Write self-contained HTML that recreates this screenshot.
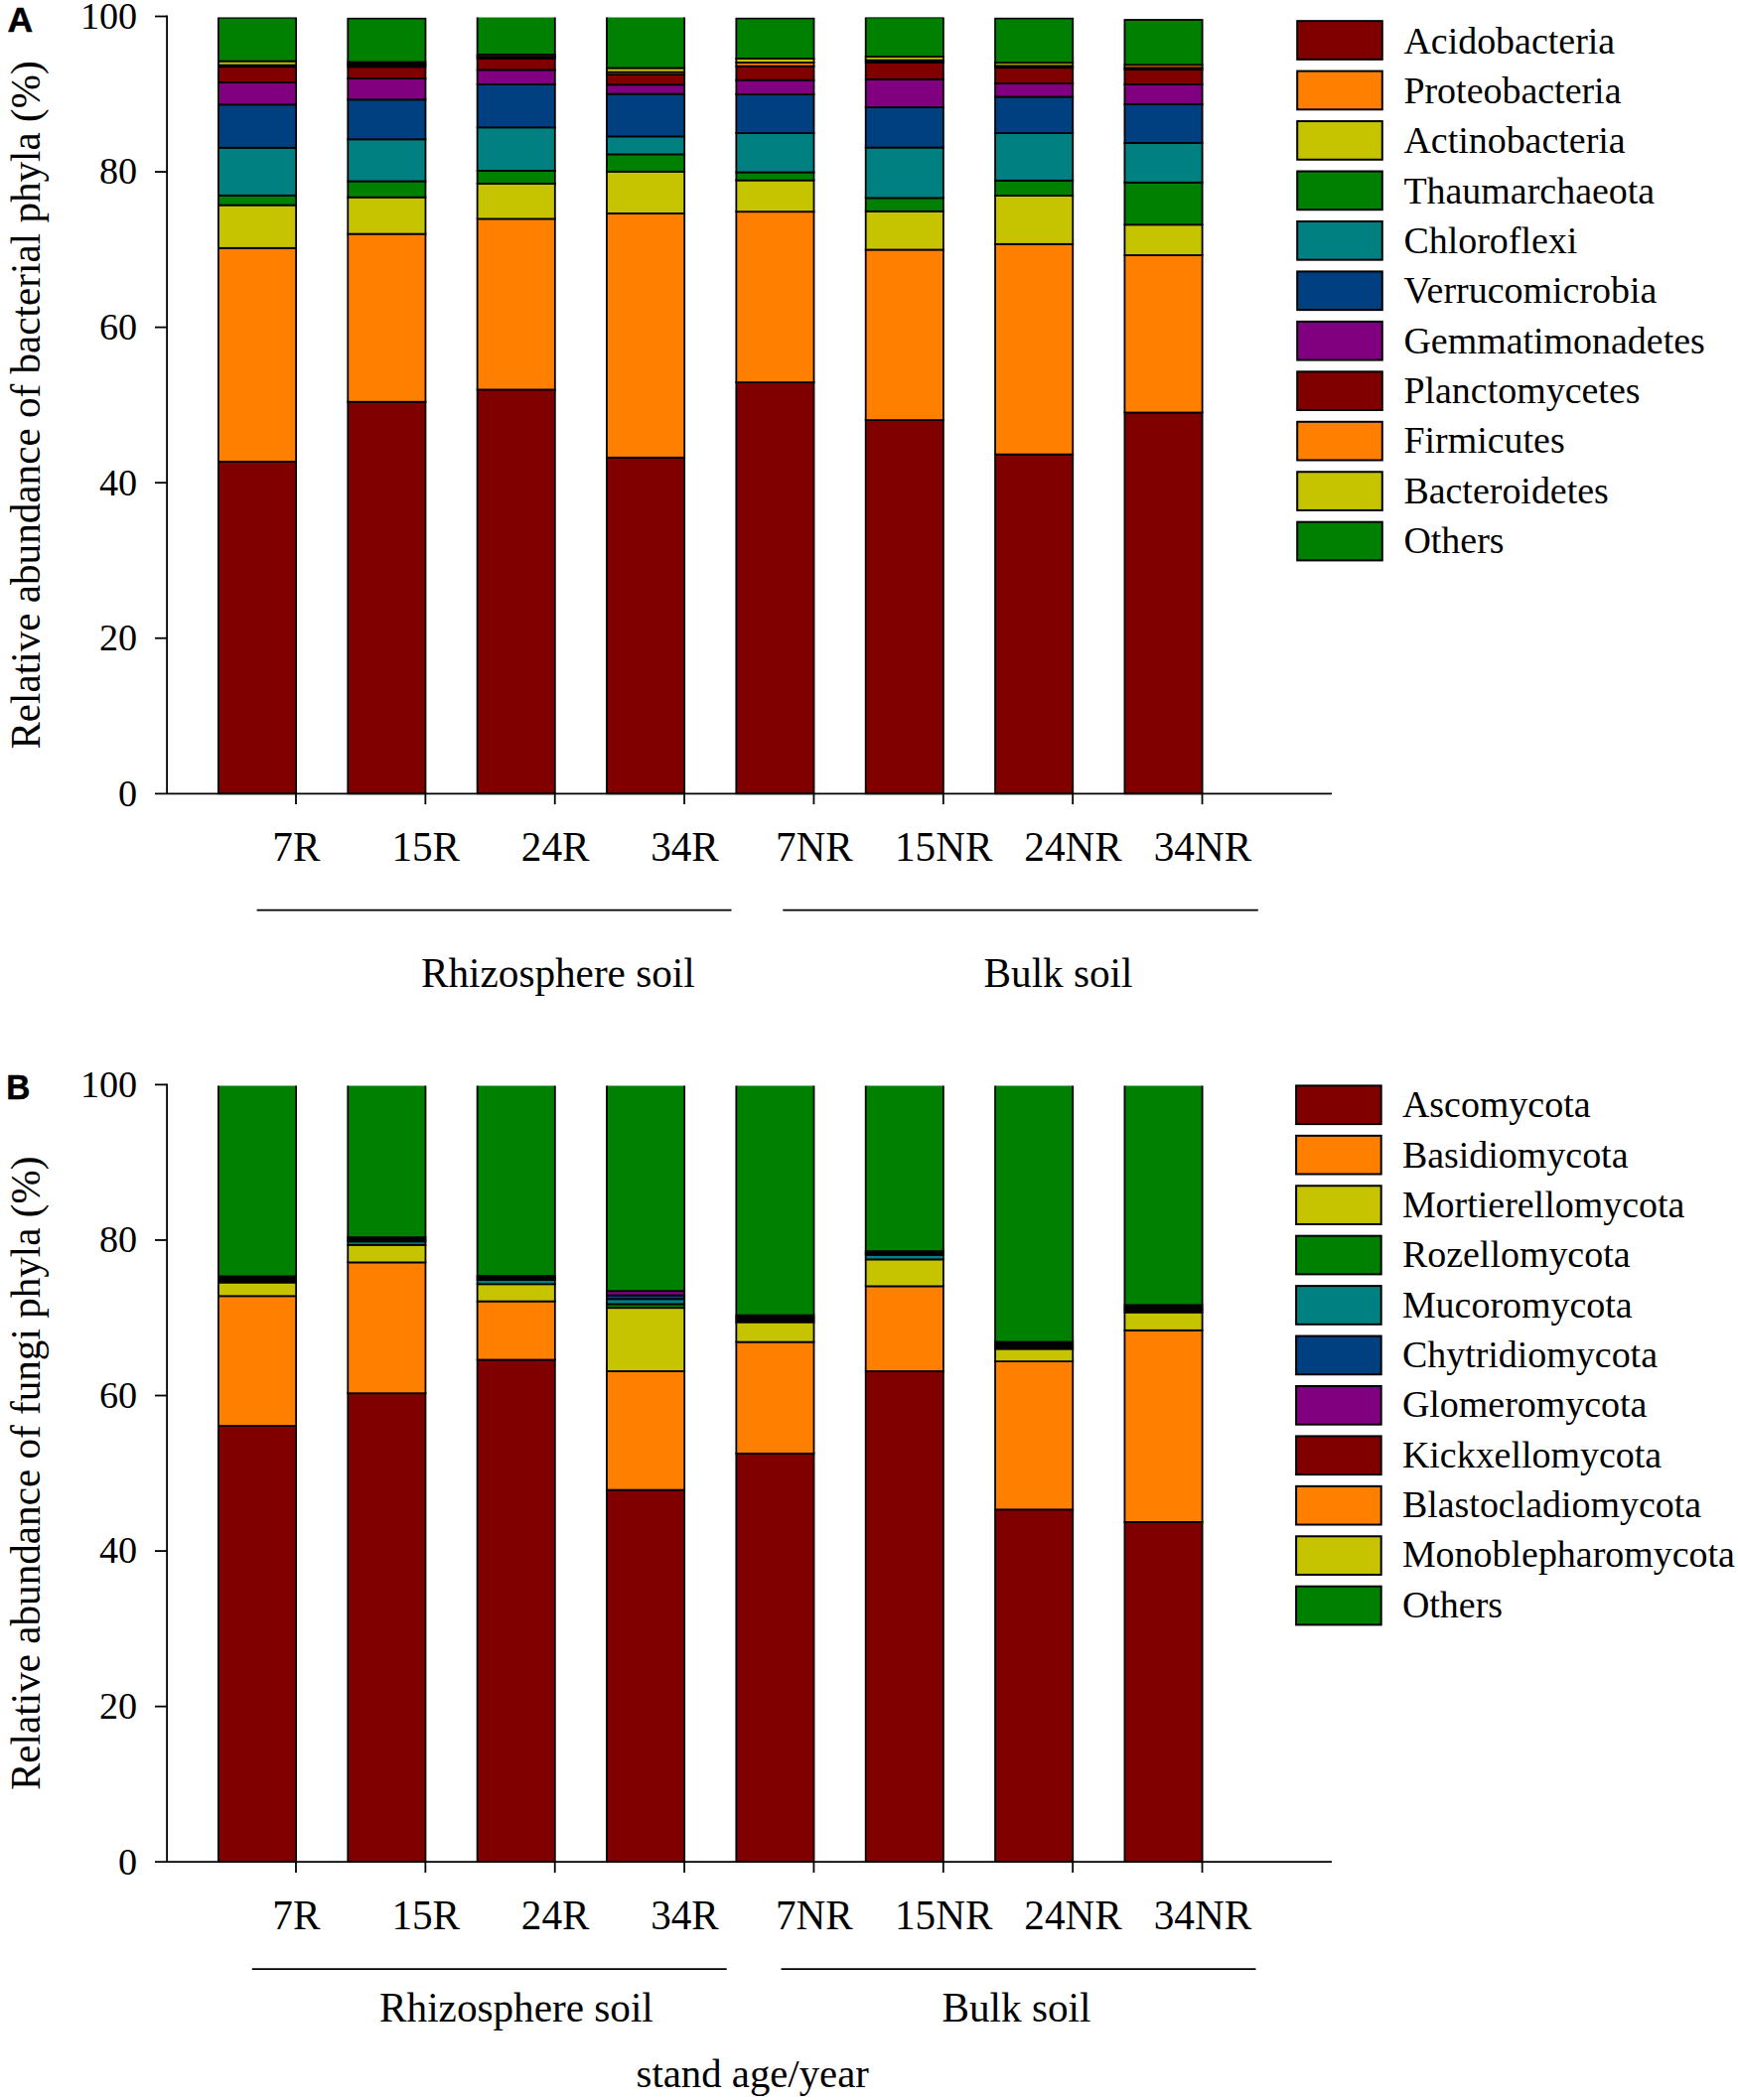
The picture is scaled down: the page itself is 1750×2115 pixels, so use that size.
<!DOCTYPE html>
<html lang="en"><head><meta charset="utf-8"><title>Relative abundance of bacterial and fungi phyla</title>
<style>html,body{margin:0;padding:0;background:#fff}body{width:1750px;height:2115px;overflow:hidden}svg{display:block}text{font-family:"Liberation Serif","Times New Roman",serif;fill:#000}.pl{font-family:"Liberation Sans",Arial,sans-serif;font-weight:bold;font-size:35.5px;stroke:#000;stroke-width:0.5px}.yt{font-size:38.2px;text-anchor:end}.xt{font-size:41.2px;text-anchor:middle}.ax{font-size:41.2px}.yl{font-size:41.15px}.lg{font-size:37.95px}.s{stroke:#000;stroke-width:1.8}.l{stroke:#000;stroke-width:1.8;fill:none}</style></head><body>
<svg width="1750" height="2115" viewBox="0 0 1750 2115">
<rect x="0" y="0" width="1750" height="2115" fill="#fff"/>
<defs><clipPath id="ca"><rect x="150" y="17.40" width="1250" height="800"/></clipPath><clipPath id="cb"><rect x="150" y="1093.60" width="1250" height="800"/></clipPath></defs>
<g clip-path="url(#ca)">
<rect class="s" x="219.90" y="464.90" width="78.20" height="334.40" fill="#800000"/>
<rect class="s" x="219.90" y="249.80" width="78.20" height="215.10" fill="#FF8000"/>
<rect class="s" x="219.90" y="206.60" width="78.20" height="43.20" fill="#C6C400"/>
<rect class="s" x="219.90" y="196.80" width="78.20" height="9.80" fill="#008000"/>
<rect class="s" x="219.90" y="148.80" width="78.20" height="48.00" fill="#008080"/>
<rect class="s" x="219.90" y="105.30" width="78.20" height="43.50" fill="#004080"/>
<rect class="s" x="219.90" y="82.90" width="78.20" height="22.40" fill="#800080"/>
<rect class="s" x="219.90" y="67.20" width="78.20" height="15.70" fill="#800000"/>
<rect class="s" x="219.90" y="65.60" width="78.20" height="1.60" fill="#000000"/>
<rect class="s" x="219.90" y="61.60" width="78.20" height="4.00" fill="#C6C400"/>
<rect class="s" x="219.90" y="17.80" width="78.20" height="43.80" fill="#008000"/>
<rect class="s" x="350.26" y="404.70" width="78.20" height="394.60" fill="#800000"/>
<rect class="s" x="350.26" y="235.60" width="78.20" height="169.10" fill="#FF8000"/>
<rect class="s" x="350.26" y="198.70" width="78.20" height="36.90" fill="#C6C400"/>
<rect class="s" x="350.26" y="182.50" width="78.20" height="16.20" fill="#008000"/>
<rect class="s" x="350.26" y="140.30" width="78.20" height="42.20" fill="#008080"/>
<rect class="s" x="350.26" y="100.30" width="78.20" height="40.00" fill="#004080"/>
<rect class="s" x="350.26" y="78.90" width="78.20" height="21.40" fill="#800080"/>
<rect class="s" x="350.26" y="67.30" width="78.20" height="11.60" fill="#800000"/>
<rect class="s" x="350.26" y="64.90" width="78.20" height="2.40" fill="#000000"/>
<rect class="s" x="350.26" y="62.50" width="78.20" height="2.40" fill="#000000"/>
<rect class="s" x="350.26" y="18.60" width="78.20" height="43.90" fill="#008000"/>
<rect class="s" x="480.62" y="392.40" width="78.20" height="406.90" fill="#800000"/>
<rect class="s" x="480.62" y="220.40" width="78.20" height="172.00" fill="#FF8000"/>
<rect class="s" x="480.62" y="184.90" width="78.20" height="35.50" fill="#C6C400"/>
<rect class="s" x="480.62" y="171.90" width="78.20" height="13.00" fill="#008000"/>
<rect class="s" x="480.62" y="128.30" width="78.20" height="43.60" fill="#008080"/>
<rect class="s" x="480.62" y="84.90" width="78.20" height="43.40" fill="#004080"/>
<rect class="s" x="480.62" y="70.40" width="78.20" height="14.50" fill="#800080"/>
<rect class="s" x="480.62" y="59.00" width="78.20" height="11.40" fill="#800000"/>
<rect class="s" x="480.62" y="57.00" width="78.20" height="2.00" fill="#000000"/>
<rect class="s" x="480.62" y="54.90" width="78.20" height="2.10" fill="#C6C400"/>
<rect class="s" x="480.62" y="5.00" width="78.20" height="49.90" fill="#008000"/>
<rect class="s" x="610.98" y="460.80" width="78.20" height="338.50" fill="#800000"/>
<rect class="s" x="610.98" y="214.90" width="78.20" height="245.90" fill="#FF8000"/>
<rect class="s" x="610.98" y="172.80" width="78.20" height="42.10" fill="#C6C400"/>
<rect class="s" x="610.98" y="155.40" width="78.20" height="17.40" fill="#008000"/>
<rect class="s" x="610.98" y="137.40" width="78.20" height="18.00" fill="#008080"/>
<rect class="s" x="610.98" y="94.60" width="78.20" height="42.80" fill="#004080"/>
<rect class="s" x="610.98" y="85.30" width="78.20" height="9.30" fill="#800080"/>
<rect class="s" x="610.98" y="75.10" width="78.20" height="10.20" fill="#800000"/>
<rect class="s" x="610.98" y="72.60" width="78.20" height="2.50" fill="#FF8000"/>
<rect class="s" x="610.98" y="68.50" width="78.20" height="4.10" fill="#C6C400"/>
<rect class="s" x="610.98" y="5.00" width="78.20" height="63.50" fill="#008000"/>
<rect class="s" x="741.34" y="385.10" width="78.20" height="414.20" fill="#800000"/>
<rect class="s" x="741.34" y="213.20" width="78.20" height="171.90" fill="#FF8000"/>
<rect class="s" x="741.34" y="181.60" width="78.20" height="31.60" fill="#C6C400"/>
<rect class="s" x="741.34" y="173.50" width="78.20" height="8.10" fill="#008000"/>
<rect class="s" x="741.34" y="134.10" width="78.20" height="39.40" fill="#008080"/>
<rect class="s" x="741.34" y="95.10" width="78.20" height="39.00" fill="#004080"/>
<rect class="s" x="741.34" y="80.60" width="78.20" height="14.50" fill="#800080"/>
<rect class="s" x="741.34" y="66.60" width="78.20" height="14.00" fill="#800000"/>
<rect class="s" x="741.34" y="63.00" width="78.20" height="3.60" fill="#FF8000"/>
<rect class="s" x="741.34" y="58.90" width="78.20" height="4.10" fill="#C6C400"/>
<rect class="s" x="741.34" y="18.50" width="78.20" height="40.40" fill="#008000"/>
<rect class="s" x="871.70" y="423.10" width="78.20" height="376.20" fill="#800000"/>
<rect class="s" x="871.70" y="251.50" width="78.20" height="171.60" fill="#FF8000"/>
<rect class="s" x="871.70" y="212.80" width="78.20" height="38.70" fill="#C6C400"/>
<rect class="s" x="871.70" y="199.40" width="78.20" height="13.40" fill="#008000"/>
<rect class="s" x="871.70" y="148.60" width="78.20" height="50.80" fill="#008080"/>
<rect class="s" x="871.70" y="108.10" width="78.20" height="40.50" fill="#004080"/>
<rect class="s" x="871.70" y="79.90" width="78.20" height="28.20" fill="#800080"/>
<rect class="s" x="871.70" y="62.90" width="78.20" height="17.00" fill="#800000"/>
<rect class="s" x="871.70" y="60.60" width="78.20" height="2.30" fill="#000000"/>
<rect class="s" x="871.70" y="57.10" width="78.20" height="3.50" fill="#C6C400"/>
<rect class="s" x="871.70" y="17.40" width="78.20" height="39.70" fill="#008000"/>
<rect class="s" x="1002.06" y="457.60" width="78.20" height="341.70" fill="#800000"/>
<rect class="s" x="1002.06" y="245.80" width="78.20" height="211.80" fill="#FF8000"/>
<rect class="s" x="1002.06" y="197.10" width="78.20" height="48.70" fill="#C6C400"/>
<rect class="s" x="1002.06" y="181.80" width="78.20" height="15.30" fill="#008000"/>
<rect class="s" x="1002.06" y="134.10" width="78.20" height="47.70" fill="#008080"/>
<rect class="s" x="1002.06" y="97.50" width="78.20" height="36.60" fill="#004080"/>
<rect class="s" x="1002.06" y="84.10" width="78.20" height="13.40" fill="#800080"/>
<rect class="s" x="1002.06" y="68.20" width="78.20" height="15.90" fill="#800000"/>
<rect class="s" x="1002.06" y="66.30" width="78.20" height="1.90" fill="#000000"/>
<rect class="s" x="1002.06" y="63.20" width="78.20" height="3.10" fill="#C6C400"/>
<rect class="s" x="1002.06" y="18.50" width="78.20" height="44.70" fill="#008000"/>
<rect class="s" x="1132.42" y="415.50" width="78.20" height="383.80" fill="#800000"/>
<rect class="s" x="1132.42" y="257.00" width="78.20" height="158.50" fill="#FF8000"/>
<rect class="s" x="1132.42" y="226.30" width="78.20" height="30.70" fill="#C6C400"/>
<rect class="s" x="1132.42" y="183.80" width="78.20" height="42.50" fill="#008000"/>
<rect class="s" x="1132.42" y="144.00" width="78.20" height="39.80" fill="#008080"/>
<rect class="s" x="1132.42" y="104.80" width="78.20" height="39.20" fill="#004080"/>
<rect class="s" x="1132.42" y="85.10" width="78.20" height="19.70" fill="#800080"/>
<rect class="s" x="1132.42" y="69.90" width="78.20" height="15.20" fill="#800000"/>
<rect class="s" x="1132.42" y="68.30" width="78.20" height="1.60" fill="#000000"/>
<rect class="s" x="1132.42" y="65.30" width="78.20" height="3.00" fill="#FF8000"/>
<rect class="s" x="1132.42" y="20.00" width="78.20" height="45.30" fill="#008000"/>
</g>
<g clip-path="url(#cb)">
<rect class="s" x="219.90" y="1436.10" width="78.20" height="439.10" fill="#800000"/>
<rect class="s" x="219.90" y="1305.30" width="78.20" height="130.80" fill="#FF8000"/>
<rect class="s" x="219.90" y="1291.60" width="78.20" height="13.70" fill="#C6C400"/>
<rect class="s" x="219.90" y="1289.30" width="78.20" height="2.30" fill="#000000"/>
<rect class="s" x="219.90" y="1287.30" width="78.20" height="2.00" fill="#000000"/>
<rect class="s" x="219.90" y="1285.40" width="78.20" height="1.90" fill="#000000"/>
<rect class="s" x="219.90" y="1080.00" width="78.20" height="205.40" fill="#008000"/>
<rect class="s" x="350.26" y="1403.20" width="78.20" height="472.00" fill="#800000"/>
<rect class="s" x="350.26" y="1271.40" width="78.20" height="131.80" fill="#FF8000"/>
<rect class="s" x="350.26" y="1253.80" width="78.20" height="17.60" fill="#C6C400"/>
<rect class="s" x="350.26" y="1250.30" width="78.20" height="3.50" fill="#008080"/>
<rect class="s" x="350.26" y="1248.20" width="78.20" height="2.10" fill="#000000"/>
<rect class="s" x="350.26" y="1246.10" width="78.20" height="2.10" fill="#000000"/>
<rect class="s" x="350.26" y="1080.00" width="78.20" height="166.10" fill="#008000"/>
<rect class="s" x="480.62" y="1369.50" width="78.20" height="505.70" fill="#800000"/>
<rect class="s" x="480.62" y="1310.60" width="78.20" height="58.90" fill="#FF8000"/>
<rect class="s" x="480.62" y="1293.30" width="78.20" height="17.30" fill="#C6C400"/>
<rect class="s" x="480.62" y="1289.00" width="78.20" height="4.30" fill="#008080"/>
<rect class="s" x="480.62" y="1287.00" width="78.20" height="2.00" fill="#000000"/>
<rect class="s" x="480.62" y="1284.90" width="78.20" height="2.10" fill="#000000"/>
<rect class="s" x="480.62" y="1080.00" width="78.20" height="204.90" fill="#008000"/>
<rect class="s" x="610.98" y="1500.60" width="78.20" height="374.60" fill="#800000"/>
<rect class="s" x="610.98" y="1381.00" width="78.20" height="119.60" fill="#FF8000"/>
<rect class="s" x="610.98" y="1317.20" width="78.20" height="63.80" fill="#C6C400"/>
<rect class="s" x="610.98" y="1313.40" width="78.20" height="3.80" fill="#008000"/>
<rect class="s" x="610.98" y="1308.30" width="78.20" height="5.10" fill="#008080"/>
<rect class="s" x="610.98" y="1304.50" width="78.20" height="3.80" fill="#004080"/>
<rect class="s" x="610.98" y="1300.20" width="78.20" height="4.30" fill="#800080"/>
<rect class="s" x="610.98" y="1080.00" width="78.20" height="220.20" fill="#008000"/>
<rect class="s" x="741.34" y="1463.90" width="78.20" height="411.30" fill="#800000"/>
<rect class="s" x="741.34" y="1351.60" width="78.20" height="112.30" fill="#FF8000"/>
<rect class="s" x="741.34" y="1331.60" width="78.20" height="20.00" fill="#C6C400"/>
<rect class="s" x="741.34" y="1329.40" width="78.20" height="2.20" fill="#000000"/>
<rect class="s" x="741.34" y="1327.00" width="78.20" height="2.40" fill="#000000"/>
<rect class="s" x="741.34" y="1324.60" width="78.20" height="2.40" fill="#000000"/>
<rect class="s" x="741.34" y="1080.00" width="78.20" height="244.60" fill="#008000"/>
<rect class="s" x="871.70" y="1381.00" width="78.20" height="494.20" fill="#800000"/>
<rect class="s" x="871.70" y="1295.40" width="78.20" height="85.60" fill="#FF8000"/>
<rect class="s" x="871.70" y="1268.40" width="78.20" height="27.00" fill="#C6C400"/>
<rect class="s" x="871.70" y="1263.80" width="78.20" height="4.60" fill="#008080"/>
<rect class="s" x="871.70" y="1262.00" width="78.20" height="1.80" fill="#000000"/>
<rect class="s" x="871.70" y="1260.10" width="78.20" height="1.90" fill="#000000"/>
<rect class="s" x="871.70" y="1080.00" width="78.20" height="180.10" fill="#008000"/>
<rect class="s" x="1002.06" y="1520.30" width="78.20" height="354.90" fill="#800000"/>
<rect class="s" x="1002.06" y="1371.10" width="78.20" height="149.20" fill="#FF8000"/>
<rect class="s" x="1002.06" y="1358.50" width="78.20" height="12.60" fill="#C6C400"/>
<rect class="s" x="1002.06" y="1356.30" width="78.20" height="2.20" fill="#000000"/>
<rect class="s" x="1002.06" y="1353.90" width="78.20" height="2.40" fill="#000000"/>
<rect class="s" x="1002.06" y="1351.50" width="78.20" height="2.40" fill="#000000"/>
<rect class="s" x="1002.06" y="1080.00" width="78.20" height="271.50" fill="#008000"/>
<rect class="s" x="1132.42" y="1532.90" width="78.20" height="342.30" fill="#800000"/>
<rect class="s" x="1132.42" y="1339.80" width="78.20" height="193.10" fill="#FF8000"/>
<rect class="s" x="1132.42" y="1321.70" width="78.20" height="18.10" fill="#C6C400"/>
<rect class="s" x="1132.42" y="1319.30" width="78.20" height="2.40" fill="#000000"/>
<rect class="s" x="1132.42" y="1316.80" width="78.20" height="2.50" fill="#000000"/>
<rect class="s" x="1132.42" y="1314.30" width="78.20" height="2.50" fill="#000000"/>
<rect class="s" x="1132.42" y="1080.00" width="78.20" height="234.30" fill="#008000"/>
</g>
<path class="l" d="M168.10 15.60 V799.30"/>
<path class="l" d="M156 799.30 H1341"/>
<text class="yt" x="138.2" y="811.70">0</text>
<path class="l" d="M156 642.74 H168.10"/>
<text class="yt" x="138.2" y="655.14">20</text>
<path class="l" d="M156 486.18 H168.10"/>
<text class="yt" x="138.2" y="498.58">40</text>
<path class="l" d="M156 329.62 H168.10"/>
<text class="yt" x="138.2" y="342.02">60</text>
<path class="l" d="M156 173.06 H168.10"/>
<text class="yt" x="138.2" y="185.46">80</text>
<path class="l" d="M156 16.50 H168.10"/>
<text class="yt" x="138.2" y="28.90">100</text>
<path class="l" d="M298.00 799.30 V810.10"/>
<text class="xt" x="298.40" y="867.30">7R</text>
<path class="l" d="M428.36 799.30 V810.10"/>
<text class="xt" x="428.76" y="867.30">15R</text>
<path class="l" d="M558.72 799.30 V810.10"/>
<text class="xt" x="559.12" y="867.30">24R</text>
<path class="l" d="M689.08 799.30 V810.10"/>
<text class="xt" x="689.48" y="867.30">34R</text>
<path class="l" d="M819.44 799.30 V810.10"/>
<text class="xt" x="819.84" y="867.30">7NR</text>
<path class="l" d="M949.80 799.30 V810.10"/>
<text class="xt" x="950.20" y="867.30">15NR</text>
<path class="l" d="M1080.16 799.30 V810.10"/>
<text class="xt" x="1080.56" y="867.30">24NR</text>
<path class="l" d="M1210.52 799.30 V810.10"/>
<text class="xt" x="1210.92" y="867.30">34NR</text>
<path d="M258.60 916.60 H736.50" stroke="#000" stroke-width="1.7" fill="none"/>
<path d="M788.30 916.60 H1266.80" stroke="#000" stroke-width="1.7" fill="none"/>
<text class="ax" x="424.00" y="993.60">Rhizosphere soil</text>
<text class="ax" x="990.60" y="993.60">Bulk soil</text>
<path class="l" d="M168.10 1091.50 V1875.20"/>
<path class="l" d="M156 1875.20 H1341"/>
<text class="yt" x="138.2" y="1887.60">0</text>
<path class="l" d="M156 1718.64 H168.10"/>
<text class="yt" x="138.2" y="1731.04">20</text>
<path class="l" d="M156 1562.08 H168.10"/>
<text class="yt" x="138.2" y="1574.48">40</text>
<path class="l" d="M156 1405.52 H168.10"/>
<text class="yt" x="138.2" y="1417.92">60</text>
<path class="l" d="M156 1248.96 H168.10"/>
<text class="yt" x="138.2" y="1261.36">80</text>
<path class="l" d="M156 1092.40 H168.10"/>
<text class="yt" x="138.2" y="1104.80">100</text>
<path class="l" d="M298.00 1875.20 V1886.00"/>
<text class="xt" x="298.40" y="1943.30">7R</text>
<path class="l" d="M428.36 1875.20 V1886.00"/>
<text class="xt" x="428.76" y="1943.30">15R</text>
<path class="l" d="M558.72 1875.20 V1886.00"/>
<text class="xt" x="559.12" y="1943.30">24R</text>
<path class="l" d="M689.08 1875.20 V1886.00"/>
<text class="xt" x="689.48" y="1943.30">34R</text>
<path class="l" d="M819.44 1875.20 V1886.00"/>
<text class="xt" x="819.84" y="1943.30">7NR</text>
<path class="l" d="M949.80 1875.20 V1886.00"/>
<text class="xt" x="950.20" y="1943.30">15NR</text>
<path class="l" d="M1080.16 1875.20 V1886.00"/>
<text class="xt" x="1080.56" y="1943.30">24NR</text>
<path class="l" d="M1210.52 1875.20 V1886.00"/>
<text class="xt" x="1210.92" y="1943.30">34NR</text>
<path d="M253.80 1983.10 H731.70" stroke="#000" stroke-width="1.7" fill="none"/>
<path d="M786.50 1983.10 H1264.50" stroke="#000" stroke-width="1.7" fill="none"/>
<text class="ax" x="382.10" y="2035.90">Rhizosphere soil</text>
<text class="ax" x="948.50" y="2035.90">Bulk soil</text>
<text class="yl" transform="translate(40 754.6) rotate(-90)">Relative abundance of bacterial phyla (%)</text>
<text class="yl" transform="translate(40 1803.1) rotate(-90)">Relative abundance of fungi phyla (%)</text>
<text class="ax" style="font-size:40.75px" x="640.6" y="2101.8">stand age/year</text>
<text class="pl" x="7.5" y="31.7">A</text>
<text class="pl" transform="translate(6.3 1106.9) scale(0.94 1)">B</text>
<rect x="1306.20" y="21.15" width="85.60" height="38.70" fill="#800000" stroke="#000" stroke-width="2"/>
<text class="lg" x="1413.40" y="53.70">Acidobacteria</text>
<rect x="1306.20" y="71.60" width="85.60" height="38.70" fill="#FF8000" stroke="#000" stroke-width="2"/>
<text class="lg" x="1413.40" y="104.03">Proteobacteria</text>
<rect x="1306.20" y="122.06" width="85.60" height="38.70" fill="#C6C400" stroke="#000" stroke-width="2"/>
<text class="lg" x="1413.40" y="154.36">Actinobacteria</text>
<rect x="1306.20" y="172.52" width="85.60" height="38.70" fill="#008000" stroke="#000" stroke-width="2"/>
<text class="lg" x="1413.40" y="204.69">Thaumarchaeota</text>
<rect x="1306.20" y="222.97" width="85.60" height="38.70" fill="#008080" stroke="#000" stroke-width="2"/>
<text class="lg" x="1413.40" y="255.02">Chloroflexi</text>
<rect x="1306.20" y="273.42" width="85.60" height="38.70" fill="#004080" stroke="#000" stroke-width="2"/>
<text class="lg" x="1413.40" y="305.35">Verrucomicrobia</text>
<rect x="1306.20" y="323.88" width="85.60" height="38.70" fill="#800080" stroke="#000" stroke-width="2"/>
<text class="lg" x="1413.40" y="355.68">Gemmatimonadetes</text>
<rect x="1306.20" y="374.33" width="85.60" height="38.70" fill="#800000" stroke="#000" stroke-width="2"/>
<text class="lg" x="1413.40" y="406.01">Planctomycetes</text>
<rect x="1306.20" y="424.79" width="85.60" height="38.70" fill="#FF8000" stroke="#000" stroke-width="2"/>
<text class="lg" x="1413.40" y="456.34">Firmicutes</text>
<rect x="1306.20" y="475.24" width="85.60" height="38.70" fill="#C6C400" stroke="#000" stroke-width="2"/>
<text class="lg" x="1413.40" y="506.67">Bacteroidetes</text>
<rect x="1306.20" y="525.70" width="85.60" height="38.70" fill="#008000" stroke="#000" stroke-width="2"/>
<text class="lg" x="1413.40" y="557.00">Others</text>
<rect x="1305.10" y="1093.40" width="85.60" height="38.70" fill="#800000" stroke="#000" stroke-width="2"/>
<text class="lg" x="1411.90" y="1125.40">Ascomycota</text>
<rect x="1305.10" y="1143.83" width="85.60" height="38.70" fill="#FF8000" stroke="#000" stroke-width="2"/>
<text class="lg" x="1411.90" y="1175.71">Basidiomycota</text>
<rect x="1305.10" y="1194.26" width="85.60" height="38.70" fill="#C6C400" stroke="#000" stroke-width="2"/>
<text class="lg" x="1411.90" y="1226.02">Mortierellomycota</text>
<rect x="1305.10" y="1244.69" width="85.60" height="38.70" fill="#008000" stroke="#000" stroke-width="2"/>
<text class="lg" x="1411.90" y="1276.33">Rozellomycota</text>
<rect x="1305.10" y="1295.12" width="85.60" height="38.70" fill="#008080" stroke="#000" stroke-width="2"/>
<text class="lg" x="1411.90" y="1326.64">Mucoromycota</text>
<rect x="1305.10" y="1345.55" width="85.60" height="38.70" fill="#004080" stroke="#000" stroke-width="2"/>
<text class="lg" x="1411.90" y="1376.95">Chytridiomycota</text>
<rect x="1305.10" y="1395.98" width="85.60" height="38.70" fill="#800080" stroke="#000" stroke-width="2"/>
<text class="lg" x="1411.90" y="1427.26">Glomeromycota</text>
<rect x="1305.10" y="1446.41" width="85.60" height="38.70" fill="#800000" stroke="#000" stroke-width="2"/>
<text class="lg" x="1411.90" y="1477.57">Kickxellomycota</text>
<rect x="1305.10" y="1496.84" width="85.60" height="38.70" fill="#FF8000" stroke="#000" stroke-width="2"/>
<text class="lg" x="1411.90" y="1527.88">Blastocladiomycota</text>
<rect x="1305.10" y="1547.27" width="85.60" height="38.70" fill="#C6C400" stroke="#000" stroke-width="2"/>
<text class="lg" x="1411.90" y="1578.19">Monoblepharomycota</text>
<rect x="1305.10" y="1597.70" width="85.60" height="38.70" fill="#008000" stroke="#000" stroke-width="2"/>
<text class="lg" x="1411.90" y="1628.50">Others</text>
</svg></body></html>
